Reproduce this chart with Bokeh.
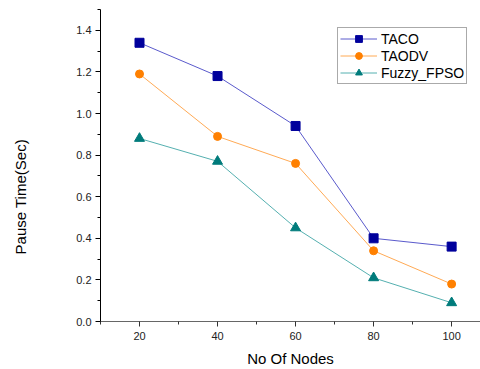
from bokeh.plotting import figure
from bokeh.models import Range1d, FixedTicker, NumeralTickFormatter, Legend, LegendItem
from bokeh.embed import file_html
from bokeh.resources import INLINE

nodes = [20, 40, 60, 80, 100]
taco = [1.34, 1.18, 0.94, 0.40, 0.36]
taodv = [1.19, 0.89, 0.76, 0.34, 0.18]
fuzzy = [0.88, 0.77, 0.45, 0.21, 0.09]
x_ticks = [20, 40, 60, 80, 100]
x_minor = [10, 30, 50, 70, 90]
y_ticks = [0.0, 0.2, 0.4, 0.6, 0.8, 1.0, 1.2, 1.4]
y_minor = [0.1, 0.3, 0.5, 0.7, 0.9, 1.1, 1.3, 1.5]

p = figure(width=480, height=369, output_backend="svg", toolbar_location=None,
           x_range=Range1d(10, 107.4), y_range=Range1d(0, 1.5),
           min_border_left=100, min_border_right=0, min_border_top=9, min_border_bottom=48)
p.outline_line_color = None
p.xgrid.visible = False
p.ygrid.visible = False
p.background_fill_color = "white"
p.border_fill_color = "white"

font = "Liberation Sans"
for ax in (p.xaxis[0], p.yaxis[0]):
    ax.major_label_text_font = font
    ax.major_label_text_font_size = "11px"
    ax.major_label_text_color = "#222222"
    ax.axis_label_text_font = font
    ax.axis_label_text_font_size = "15px"
    ax.axis_label_text_font_style = "normal"
    ax.axis_label_text_color = "#000000"
    ax.major_tick_in = 0
    ax.major_tick_out = 5
    ax.minor_tick_in = 0
    ax.minor_tick_out = 3
    ax.axis_line_width = 1

p.xaxis.axis_line_color = "#666666"
p.xaxis.major_tick_line_color = "#333333"
p.xaxis.minor_tick_line_color = "#333333"
p.yaxis.axis_line_color = "#000000"

p.xaxis.ticker = FixedTicker(ticks=x_ticks, minor_ticks=x_minor)
p.yaxis.ticker = FixedTicker(ticks=y_ticks, minor_ticks=y_minor)
p.yaxis.formatter = NumeralTickFormatter(format="0.0")
p.xaxis.axis_label = "No Of Nodes"
p.xaxis.major_label_standoff = 5
p.xaxis.axis_label_standoff = 7
p.yaxis.major_label_standoff = 4
# trailing non-breaking spaces shift the visible label lower, as in the reference
p.yaxis.axis_label = "Pause Time(Sec)" + "\u00a0" * 15
p.yaxis.axis_label_standoff = 44

l1 = p.line(nodes, taco, line_color="#5a5acc", line_width=1)
m1 = p.scatter(nodes, taco, marker="square", size=9, fill_color="#00009c", line_color="#00009c")
l2 = p.line(nodes, taodv, line_color="#ffaa55", line_width=1)
m2 = p.scatter(nodes, taodv, marker="circle", size=8, fill_color="#ff8000", line_color="#ff8000")
l3 = p.line(nodes, fuzzy, line_color="#55b0b0", line_width=1)
m3 = p.scatter(nodes, fuzzy, marker="triangle", size=10, fill_color="#007b7b", line_color="#007b7b")

legend = Legend(items=[
    LegendItem(label="TACO", renderers=[l1, m1]),
    LegendItem(label="TAODV", renderers=[l2, m2]),
    LegendItem(label="Fuzzy_FPSO", renderers=[l3, m3]),
], location=(237, 237))
legend.border_line_color = "#555555"
legend.border_line_width = 1
legend.label_text_font = font
legend.label_text_font_size = "14px"
legend.label_text_color = "#000000"
legend.glyph_width = 37
legend.glyph_height = 17
legend.label_height = 17
legend.label_standoff = 4
legend.padding = 2
legend.spacing = 0
legend.margin = 0
legend.background_fill_alpha = 1
p.add_layout(legend)

open("out.html", "w").write(file_html(p, INLINE))
